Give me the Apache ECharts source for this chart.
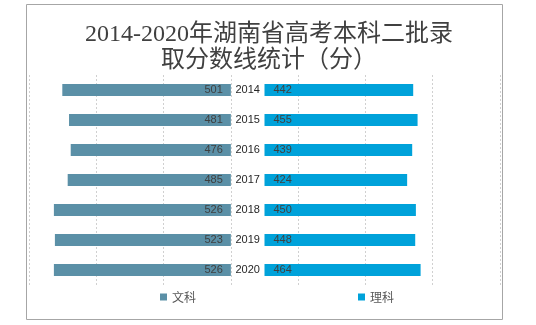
<!DOCTYPE html>
<html>
<head>
<meta charset="utf-8">
<script src="https://cdn.jsdelivr.net/npm/echarts@6/dist/echarts.min.js"></script>
<style>html,body{margin:0;padding:0;background:#fff;}#c{width:536px;height:325px;}</style>
</head>
<body>
<div id="c"></div>
<script>
var years = ['2014','2015','2016','2017','2018','2019','2020'];
var wenke = [501, 481, 476, 485, 526, 523, 526];
var like = [442, 455, 439, 424, 450, 448, 464];
var gap = [100, 100, 100, 100, 100, 100, 100];
var xTicks = {min: -600, max: 800, interval: 200};

var chart = echarts.init(document.getElementById('c'), null, {renderer: 'canvas'});
var labelFont = "'Liberation Sans', 'Noto Sans', sans-serif";
chart.setOption({
  animation: false,
  title: {
    text: '2014-2020年湖南省高考本科二批录\n取分数线统计（分）',
    left: 264,
    top: 17,
    textAlign: 'center',
    textStyle: {
      fontSize: 24,
      lineHeight: 26,
      fontWeight: 'normal',
      color: '#404040',
      fontFamily: "'Liberation Serif', 'Noto Sans CJK SC', serif"
    }
  },
  graphic: [{
    type: 'rect',
    shape: {x: 26.5, y: 4.5, width: 476, height: 315},
    style: {fill: 'none', stroke: '#a6a6a6', lineWidth: 1},
    silent: true,
    z: -1
  }],
  legend: {
    data: ['文科', '理科'],
    left: 155,
    top: 286,
    itemWidth: 7,
    itemHeight: 7,
    itemGap: 162,
    icon: 'rect',
    textStyle: {fontSize: 12, color: '#595959', fontFamily: "'Noto Sans CJK SC', sans-serif"}
  },
  grid: {left: 29, right: 36, top: 75, bottom: 40, containLabel: false},
  xAxis: {
    type: 'value',
    min: xTicks.min,
    max: xTicks.max,
    interval: xTicks.interval,
    axisLabel: {show: false},
    axisTick: {show: false},
    axisLine: {show: false},
    splitLine: {show: true, lineStyle: {color: '#d0d0d0', type: [2, 2], width: 1}}
  },
  yAxis: {
    type: 'category',
    data: years,
    inverse: true,
    show: false
  },
  series: [
    {
      name: '文科',
      type: 'bar',
      stack: 's',
      barWidth: 12,
      data: wenke.map(function (v) { return -v; }),
      itemStyle: {color: '#5b90a7'},
      label: {
        show: true,
        position: 'insideRight',
        distance: 8,
        formatter: function (p) { return Math.abs(p.value); },
        fontSize: 11,
        color: '#404040',
        fontFamily: labelFont
      }
    },
    {
      name: 'gap',
      type: 'bar',
      stack: 's',
      barWidth: 12,
      data: gap,
      itemStyle: {color: 'rgba(0,0,0,0)'},
      label: {
        show: true,
        position: 'inside',
        formatter: function (p) { return p.name; },
        fontSize: 11,
        color: '#262626',
        fontFamily: labelFont
      },
      silent: true
    },
    {
      name: '理科',
      type: 'bar',
      stack: 's',
      barWidth: 12,
      data: like,
      itemStyle: {color: '#00a2da'},
      label: {
        show: true,
        position: 'insideLeft',
        distance: 9,
        fontSize: 11,
        color: '#404040',
        fontFamily: labelFont
      }
    }
  ]
});
</script>
</body>
</html>
